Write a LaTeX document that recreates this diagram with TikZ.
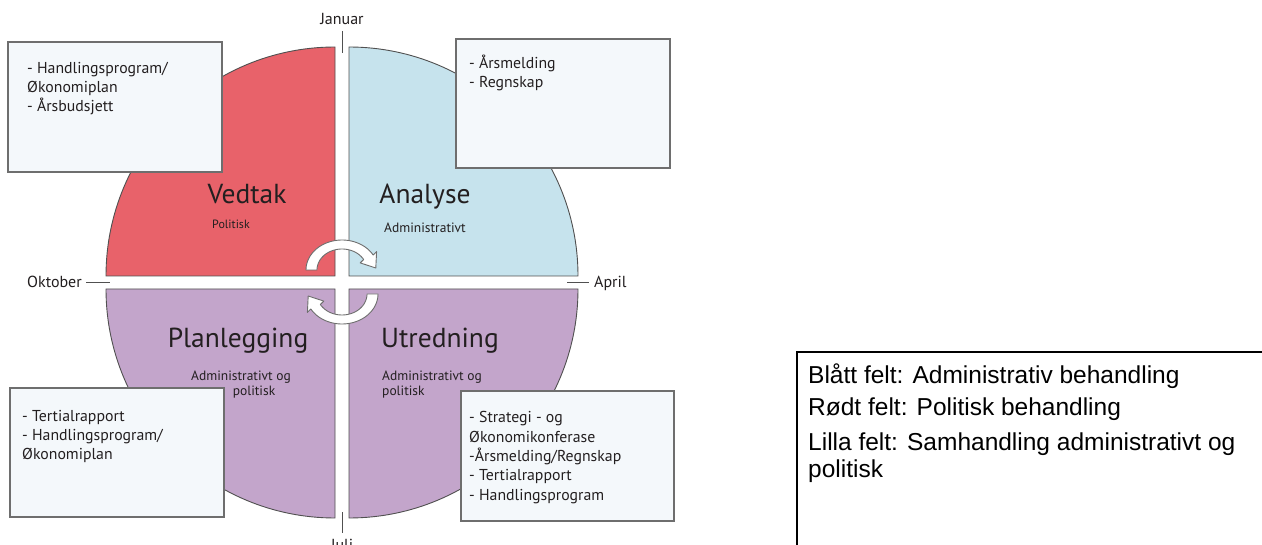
\documentclass[tikz,border=0pt]{standalone}
\usepackage{fontspec}
\setmainfont{PT Sans}
\newfontfamily\legendfont{Liberation Sans}
\definecolor{qred}{HTML}{E8626A}
\definecolor{qblue}{HTML}{C6E3ED}
\definecolor{qpurple}{HTML}{C3A5CB}
\definecolor{boxfill}{HTML}{F4F8FB}
\definecolor{boxline}{HTML}{6E6E6E}
\definecolor{qline}{HTML}{505050}
\definecolor{ink}{HTML}{231F20}
\begin{document}
\begin{tikzpicture}[x=1pt,y=-1pt,
  quad/.style={draw=qline,line width=0.9pt},
  infobox/.style={draw=boxline,fill=boxfill,line width=1.4pt,rectangle,inner sep=0pt},
  boxtext/.style={anchor=base west,align=left,inner sep=0pt,text=ink,font=\fontsize{15.8}{19.3}\selectfont},
  title/.style={anchor=base,inner sep=0pt,text=ink,font=\fontsize{27.5}{32}\selectfont},
  sublbl/.style={inner sep=0pt,text=ink,font=\fontsize{13.5}{15}\selectfont},
  month/.style={inner sep=0pt,text=ink,font=\fontsize{16}{18}\selectfont},
  tickline/.style={draw=qline,line width=1pt},
  cycarrow/.style={draw=boxline,fill=white,line width=0.9pt,line join=round},
  legendtext/.style={anchor=base west,inner sep=0pt,text=black,font=\legendfont\fontsize{24.5}{27}\selectfont}
]
\useasboundingbox (0,0) rectangle (1262,545);
\fill[white] (0,0) rectangle (1262,545);

% quadrants
\draw[quad,fill=qred] (335,47) -- (335,276) -- (106,276) arc[start angle=180,end angle=90,radius=229pt] -- cycle;
\draw[quad,fill=qblue] (349,47) arc[start angle=90,end angle=0,radius=229pt] -- (349,276) -- cycle;
\draw[quad,fill=qpurple] (335,289) -- (106,289) arc[start angle=180,end angle=270,radius=229pt] -- cycle;
\draw[quad,fill=qpurple] (349,289) -- (578,289) arc[start angle=0,end angle=-90,radius=229pt] -- cycle;

% month labels and ticks
\node[month,anchor=base] (jan) at (342,25) {Januar};
\node[month,anchor=base east] (okt) at (82,288) {Oktober};
\node[month,anchor=base west] (apr) at (594,288) {April};
\node[month,anchor=base] (jul) at (342,550) {Juli};
\coordinate (janA) at (342,31); \coordinate (janB) at (342,53);
\coordinate (oktA) at (86,283); \coordinate (oktB) at (110,283);
\coordinate (aprA) at (567,283); \coordinate (aprB) at (589,283);
\coordinate (julA) at (342,512); \coordinate (julB) at (342,533);
\draw[tickline] (janA) -- (janB);
\draw[tickline] (oktA) -- (oktB);
\draw[tickline] (aprA) -- (aprB);
\draw[tickline] (julA) -- (julB);

% quadrant titles
\node[title] (vedtak) at (247,204) {Vedtak};
\node[sublbl,anchor=base,font=\fontsize{12}{15}\selectfont] (vedtaksub) at (231,229) {Politisk};
\node[title] (analyse) at (425,204) {Analyse};
\node[sublbl,anchor=base] (analysesub) at (425,233) {Administrativt};
\node[title] (plan) at (238,348) {Planlegging};
\node[sublbl,anchor=base,align=center] (plansub) at (241,396) {Administrativt og\\\hspace*{26pt}politisk};
\node[title,anchor=base west] (utred) at (381,348) {Utredning};
\node[sublbl,anchor=base west,align=left] (utredsub) at (382,396) {Administrativt og\\politisk};

% cycle arrows
\draw[cycarrow] plot[domain=180:330,samples=40] ({342+36*cos(\x)},{270+30*sin(\x)})
  -- (376.6,251.6) -- (375.8,268.0) -- (360.2,262.9)
  -- plot[domain=330:180,samples=40] ({342+25*cos(\x)},{270+21*sin(\x)}) -- cycle;
\begin{scope}[rotate around={180:(342,282)}]
\draw[cycarrow] plot[domain=180:330,samples=40] ({342+36*cos(\x)},{270+30*sin(\x)})
  -- (376.6,251.6) -- (375.8,268.0) -- (360.2,262.9)
  -- plot[domain=330:180,samples=40] ({342+25*cos(\x)},{270+21*sin(\x)}) -- cycle;
\end{scope}

% info boxes (base anchor of a multi-line node = last line's baseline)
\node[infobox,minimum width=214pt,minimum height=130pt] (b1) at (115,107) {};
\node[boxtext] (t1) at (27,112) {- Handlingsprogram/\\Økonomiplan\\- Årsbudsjett};
\node[infobox,minimum width=214pt,minimum height=129pt] (b2) at (563,103.5) {};
\node[boxtext] (t2) at (469,88) {- Årsmelding\\- Regnskap};
\node[infobox,minimum width=214pt,minimum height=129pt] (b3) at (117,452.5) {};
\node[boxtext] (t3) at (22,460) {- Tertialrapport\\- Handlingsprogram/\\Økonomiplan};
\node[infobox,minimum width=213pt,minimum height=130pt] (b4) at (567.5,456) {};
\node[boxtext] (t4) at (469,500) {- Strategi - og\\Økonomikonferase\\-Årsmelding/Regnskap\\- Tertialrapport\\- Handlingsprogram};

% legend
\coordinate (legTL) at (797,352);
\coordinate (legTR) at (1266,352);
\coordinate (legBL) at (797,550);
\draw[black,line width=1.3pt] (legBL) -- (legTL) -- (legTR);
\node[legendtext] (l1) at (808,384) {Blått felt: Administrativ behandling};
\node[legendtext] (l2) at (808,416) {Rødt felt: Politisk behandling};
\node[legendtext] (l3) at (808,450) {Lilla felt: Samhandling administrativt og};
\node[legendtext] (l4) at (808,477) {politisk};
\end{tikzpicture}
\end{document}
